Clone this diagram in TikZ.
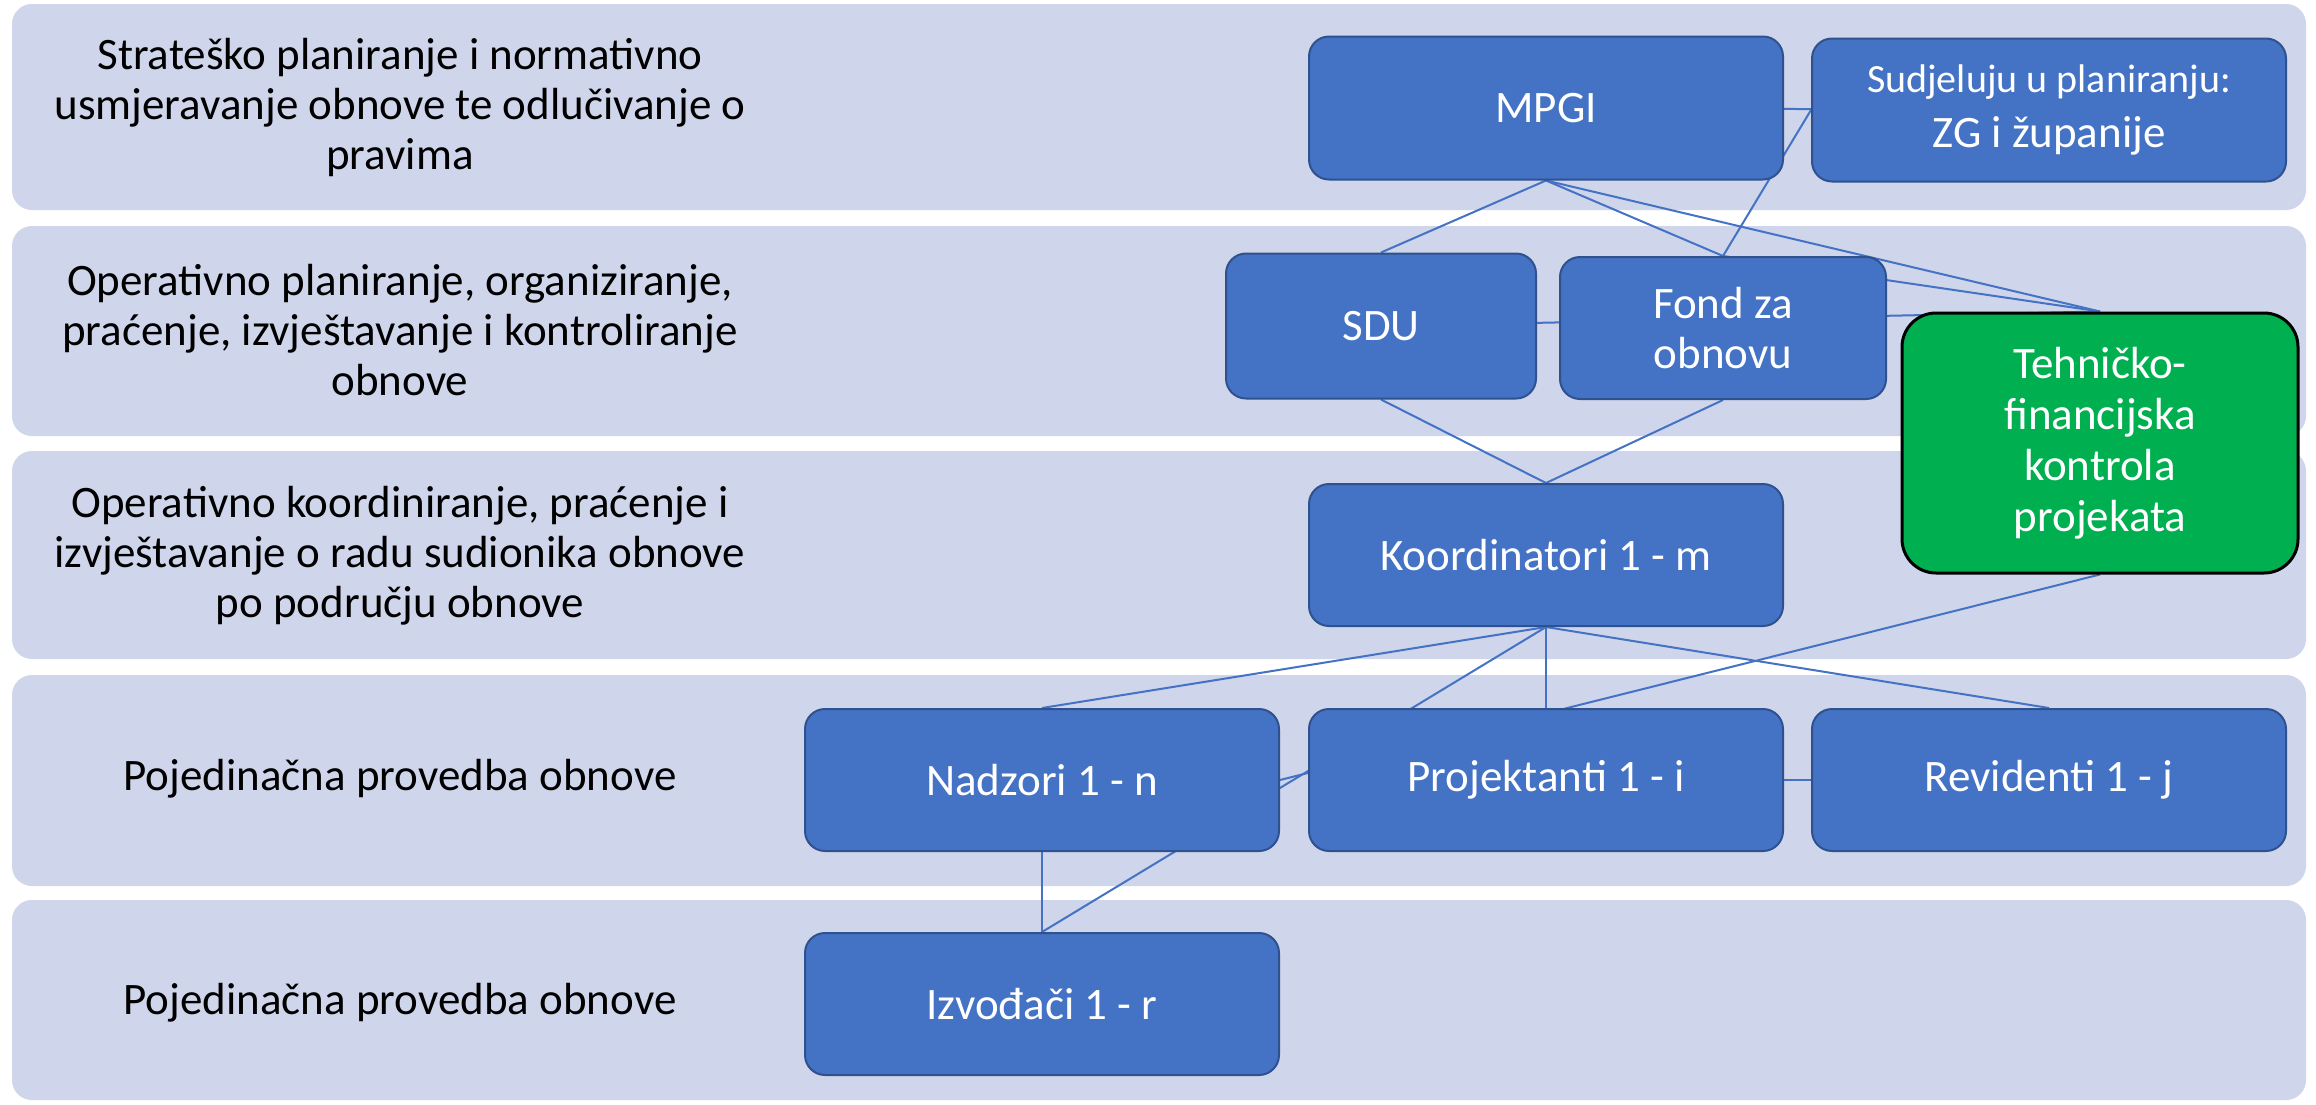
\documentclass[tikz,border=0pt]{standalone}
\usepackage{fontspec}
\setmainfont{Carlito}
\usetikzlibrary{positioning}
\definecolor{bandfill}{HTML}{CFD5EA}
\definecolor{boxblue}{HTML}{4472C4}
\definecolor{boxedge}{HTML}{2F528F}
\definecolor{kgreen}{HTML}{00B050}
\definecolor{linkblue}{HTML}{4472C4}
\pgfdeclarelayer{bands}
\pgfdeclarelayer{links}
\pgfsetlayers{bands,links,main}
\tikzset{
  band/.style={fill=bandfill, rounded corners=20pt},
  lefttext/.style={align=center, text=black, font=\fontsize{45}{50}\selectfont, inner sep=0pt},
  orgbox/.style={draw=boxedge, line width=2pt, fill=boxblue, rounded corners=20pt, text=white,
    align=center, font=\fontsize{45}{50}\selectfont, inner sep=0pt},
  greenbox/.style={draw=black, line width=3pt, fill=kgreen, rounded corners=34pt, text=white,
    align=center, font=\fontsize{45}{51}\selectfont, inner sep=0pt},
  link/.style={draw=linkblue, line width=2pt},
}
\begin{document}
\begin{tikzpicture}[x=1pt, y=-1pt]
\useasboundingbox (0,0) rectangle (2316,1104);
\begin{pgfonlayer}{bands}
  \fill[white] (0,0) rectangle (2316,1104);
  \fill[band] (12,4) rectangle (2306,210);
  \fill[band] (12,226) rectangle (2306,436);
  \fill[band] (12,451) rectangle (2306,659);
  \fill[band] (12,675) rectangle (2306,886);
  \fill[band] (12,900) rectangle (2306,1100);
\end{pgfonlayer}
% left texts
\node[lefttext] (t1) at (400,107) {Strateško planiranje i normativno\\usmjeravanje obnove te odlučivanje o\\pravima};
\node[lefttext] (t2) at (400,330) {Operativno planiranje, organiziranje,\\praćenje, izvještavanje i kontroliranje\\obnove};
\node[lefttext] (t3) at (400,556) {Operativno koordiniranje, praćenje i\\izvještavanje o radu sudionika obnove\\po području obnove};
\node[lefttext] (t4) at (400,779) {Pojedinačna provedba obnove};
\node[lefttext] (t5) at (400,1003) {Pojedinačna provedba obnove};
% boxes
\node[orgbox, minimum width=474pt, minimum height=143pt] (mpgi) at (1546,108) {MPGI};
\node[orgbox, minimum width=474pt, minimum height=143pt] (sudj) at (2049,110) {{\fontsize{40}{50}\selectfont Sudjeluju u planiranju:}\\[5pt]ZG i županije};
\node[orgbox, minimum width=310pt, minimum height=145pt] (sdu) at (1381,326) {SDU};
\node[orgbox, minimum width=326pt, minimum height=142pt] (fond) at (1723,328) {Fond za\\obnovu};
\node[greenbox, minimum width=396pt, minimum height=260pt] (tfk) at (2100,443) {Tehničko-\\financijska\\kontrola\\projekata};
\node[orgbox, minimum width=474pt, minimum height=142pt] (koord) at (1546,555) {Koordinatori 1 - m};
\node[orgbox, minimum width=474pt, minimum height=142pt] (nadz) at (1042,780) {Nadzori 1 - n};
\node[orgbox, minimum width=474pt, minimum height=142pt] (proj) at (1546,780) {Projektanti 1 - i};
\node[orgbox, minimum width=474pt, minimum height=142pt] (revid) at (2049,780) {Revidenti 1 - j};
\node[orgbox, minimum width=474pt, minimum height=142pt] (izv) at (1042,1004) {Izvođači 1 - r};
% connectors
\begin{pgfonlayer}{links}
  \draw[link] (mpgi.south) -- (sdu.north);
  \draw[link] (mpgi.south) -- (fond.north);
  \draw[link] (mpgi.south) -- (tfk.north);
  \draw[link] (mpgi.center) -- (sudj.center);
  \draw[link] (sudj.west) -- (fond.north);
  \draw[link] (fond.north) -- (tfk.north);
  \draw[link] (sdu.center) -- (tfk.north);
  \draw[link] (sdu.south) -- (koord.north);
  \draw[link] (fond.south) -- (koord.north);
  \draw[link] (koord.south) -- (nadz.north);
  \draw[link] (koord.south) -- (izv.north);
  \draw[link] (koord.south) -- (proj.north);
  \draw[link] (koord.south) -- (revid.north);
  \draw[link] (tfk.south) -- (nadz.east);
  \draw[link] (proj.center) -- (revid.center);
  \draw[link] (nadz.south) -- (izv.north);
\end{pgfonlayer}
\end{tikzpicture}
\end{document}
